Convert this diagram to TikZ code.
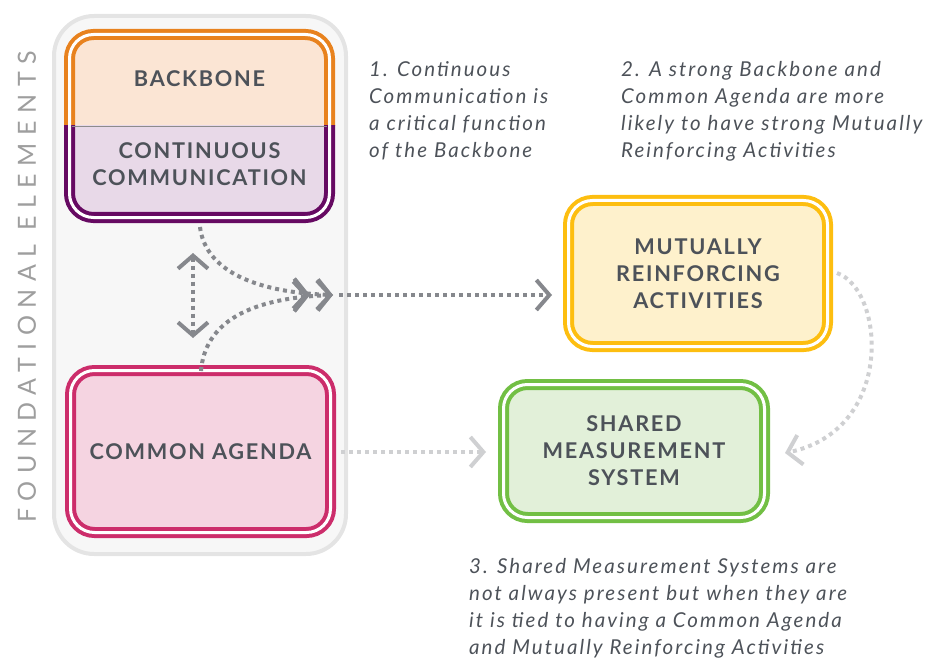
\documentclass[tikz,border=0pt]{standalone}
\usepackage{fontspec}
\setmainfont{Lato}
\newfontfamily\labfont[LetterSpace=8]{Lato}
\newfontfamily\notefont[LetterSpace=10]{Lato}
\newfontfamily\sidefont[LetterSpace=30]{Lato}
\usetikzlibrary{arrows.meta}
\definecolor{txt}{HTML}{4D5259}
\definecolor{arrdark}{HTML}{86888D}
\definecolor{arrlight}{HTML}{CFD0D2}
\definecolor{orangeS}{HTML}{E8821E}
\definecolor{orangeF}{HTML}{FBE5D4}
\definecolor{purpS}{HTML}{660A62}
\definecolor{purpF}{HTML}{E8D9E8}
\definecolor{pinkS}{HTML}{CC2D6B}
\definecolor{pinkF}{HTML}{F5D4E1}
\definecolor{yelS}{HTML}{FDBE10}
\definecolor{yelF}{HTML}{FEF1CC}
\definecolor{grnS}{HTML}{72BF44}
\definecolor{grnF}{HTML}{E2F0D9}
\definecolor{panelF}{HTML}{F7F7F7}
\definecolor{panelS}{HTML}{E4E4E4}
\tikzset{
  box/.style={rectangle, rounded corners=24pt, line width=4pt, double=white, double distance=3pt, inner sep=0pt},
  lab/.style={font=\labfont\bfseries\fontsize{21.7}{27}\selectfont, text=txt, align=center},
  note/.style={font=\notefont\itshape\fontsize{20.5}{27}\selectfont, text=txt, align=left, anchor=north west, inner sep=0pt},
  tipd/.tip={Straight Barb[length=13pt,width=30pt,line width=4pt]},
  tipdd/.tip={Straight Barb[length=13pt,width=30pt,line width=4pt,sep=6pt] Straight Barb[length=13pt,width=30pt,line width=4pt]},
  darkarr/.style={draw=arrdark, line width=4pt, dash pattern=on 4pt off 4pt},
  lightarr/.style={draw=arrlight, line width=4pt, dash pattern=on 4pt off 4pt},
}
\begin{document}
\begin{tikzpicture}[x=1pt,y=-1pt]
\useasboundingbox (0,0) rectangle (927,658);
% panel
\draw[fill=panelF, draw=panelS, line width=4pt, rounded corners=40pt] (54,16) rectangle (346,554);
% side label
\node[rotate=90, font=\sidefont\fontsize{25}{25}\selectfont, text=black!38] (side) at (27,287) {FOUNDATIONAL ELEMENTS};
% backbone box split
\begin{scope}
\clip (0,0) rectangle (927,126);
\node[box, draw=orangeS, fill=orangeF, minimum width=260pt, minimum height=183pt] (bbtop) at (199.5,126) {};
\end{scope}
\begin{scope}
\clip (0,126) rectangle (927,658);
\node[box, draw=purpS, fill=purpF, minimum width=260pt, minimum height=183pt] (bb) at (199.5,126) {};
\end{scope}
\draw[black!45, line width=0.6pt] (72,126) -- (327,126);
\node[lab] (bbl) at (199.5,79) {BACKBONE};
\node[lab] (ccl) at (199.5,164) {CONTINUOUS\\COMMUNICATION};
% common agenda
\node[box, draw=pinkS, fill=pinkF, minimum width=260pt, minimum height=162pt, lab] (ca) at (200.5,451.5) {COMMON AGENDA};
% mutually
\node[box, draw=yelS, fill=yelF, minimum width=259pt, minimum height=146pt, lab] (mr) at (698,273.5) {MUTUALLY\\REINFORCING\\ACTIVITIES};
% shared
\node[box, draw=grnS, fill=grnF, minimum width=261pt, minimum height=133pt, lab] (sm) at (634,451) {SHARED\\MEASUREMENT\\SYSTEM};
% notes
\node[note] (n1) at (369,61) {1. Continuous\\Communication is\\a critical function\\of the Backbone};
\node[note] (n2) at (621,61) {2. A strong Backbone and\\Common Agenda are more\\likely to have strong Mutually\\Reinforcing Activities};
\node[note] (n3) at (469,558) {3. Shared Measurement Systems are\\not always present but when they are\\it is tied to having a Common Agenda\\and Mutually Reinforcing Activities};
% connectors
\coordinate (merge) at (333,295);
\coordinate (va) at (193,253);
\coordinate (vb) at (193,338);
\coordinate (bbs) at (200,227);
\coordinate (cas) at (201,371);
\coordinate (hstart) at (339,295);
\coordinate (hend) at (552,295);
\draw[darkarr, tipd-tipd] (va) -- (vb);
\draw[darkarr, -tipdd] (bbs) .. controls (205,268) and (250,292) .. (merge);
\draw[darkarr, -tipdd] (cas) .. controls (205,322) and (250,298) .. (merge);
\draw[darkarr, -tipd] (hstart) -- (hend);
\coordinate (cae) at (341,452);
\coordinate (sme) at (486,452);
\draw[lightarr, -tipd] (cae) -- (sme);
\coordinate (mre) at (837,273);
\coordinate (smr) at (785,453);
\draw[lightarr, -tipd] (mre) .. controls (885,290) and (895,430) .. (smr);
\end{tikzpicture}
\end{document}
